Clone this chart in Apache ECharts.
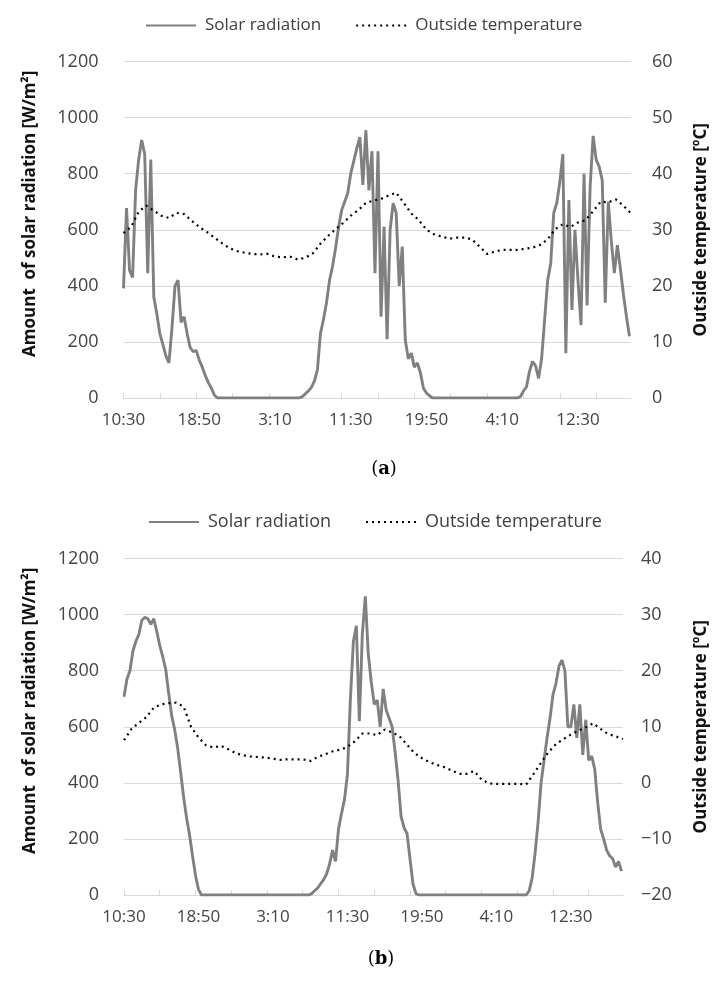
<!DOCTYPE html>
<html>
<head>
<meta charset="utf-8">
<script src="https://cdn.jsdelivr.net/npm/echarts@6/dist/echarts.min.js"></script>
<style>
  html, body { margin: 0; padding: 0; background: #fff; }
  #chartA { position: absolute; left: 0; top: 0; width: 718px; height: 490px; }
  #chartB { position: absolute; left: 0; top: 490px; width: 718px; height: 491px; }
</style>
</head>
<body>
<div id="chartA"></div>
<div id="chartB"></div>
<script>
// 10-minute time slots starting at 10:30; a label every 50 slots, a tick every 24
const slotCount = 336;
const startMinute = 10 * 60 + 30;
const labelEvery = 50;
const tickEvery = 24;
const radEvery = 2;   // radiation read every 2 slots (20 min)
const tempEvery = 5;  // temperature read every 5 slots (50 min)

// (a) solar radiation [W/m2]
const radA = [
  391, 677, 456, 430, 742, 850, 920, 870, 445, 850, 360, 300, 230, 190, 150, 125, 250, 400, 420, 270,
  290, 230, 180, 165, 170, 135, 110, 80, 55, 35, 10,
  0, 0, 0, 0, 0, 0, 0, 0, 0, 0, 0, 0, 0, 0, 0, 0, 0, 0, 0, 0, 0, 0, 0, 0, 0, 0, 0, 0,
  5, 15, 25, 38, 60, 100, 230, 280, 340, 420, 470, 535, 610, 670, 700, 730, 800, 845, 890, 930,
  760, 955, 740, 880, 445, 880, 290, 611, 210, 600, 695, 660, 400, 540, 207, 140, 160, 110, 125, 90,
  35, 18, 8,
  0, 0, 0, 0, 0, 0, 0, 0, 0, 0, 0, 0, 0, 0, 0, 0, 0, 0, 0, 0, 0, 0, 0, 0, 0, 0, 0, 0, 0,
  5, 25, 40, 95, 130, 115, 70, 140, 280, 420, 480, 660, 695, 770, 870, 160, 706, 314, 600, 420,
  260, 800, 330, 750, 935, 850, 825, 777, 340, 700, 560, 445, 545, 460, 370, 290, 220
];
// (a) outside temperature [°C]
const tempA = [
  29.4, 30.5, 33.2, 34.3, 33.4, 32.5, 32.1, 33.0, 32.8, 31.6,
  30.5, 29.6, 28.6, 27.6, 26.7, 26.2, 25.9, 25.7, 25.6, 25.7,
  25.2, 25.1, 25.2, 24.7, 25.0, 25.8, 27.5, 28.9, 30.1, 31.2,
  32.5, 33.5, 34.8, 35.2, 35.5, 36.1, 36.6, 34.8, 32.9, 31.7,
  30.0, 29.2, 28.8, 28.4, 28.6, 28.6, 28.3, 27.0, 25.7, 26.1,
  26.4, 26.4, 26.4, 26.6, 26.8, 27.3, 28.3, 30.1, 31.0, 30.5,
  31.3, 31.7, 33.3, 35.0, 34.9, 35.4, 34.3, 32.9
];

// (b) solar radiation [W/m2]
const radB = [
  707, 770, 800, 870, 905, 930, 980, 990, 985, 965, 985, 940, 890, 850, 805, 720, 640, 590, 525, 440,
  350, 275, 215, 140, 70, 20,
  0, 0, 0, 0, 0, 0, 0, 0, 0, 0, 0, 0, 0, 0, 0, 0, 0, 0, 0, 0, 0, 0, 0, 0, 0, 0, 0, 0, 0, 0, 0, 0, 0, 0, 0, 0, 0,
  5, 15, 25, 40, 55, 75, 110, 160, 120, 235, 290, 340, 430, 700, 905, 960, 620, 930, 1065, 860,
  760, 680, 695, 600, 735, 660, 630, 600, 510, 410, 280, 240, 220, 130, 40, 5,
  0, 0, 0, 0, 0, 0, 0, 0, 0, 0, 0, 0, 0, 0, 0, 0, 0, 0, 0, 0, 0, 0, 0, 0, 0, 0, 0, 0, 0, 0, 0, 0, 0, 0, 0, 0, 0,
  15, 60, 150, 260, 400, 480, 560, 630, 715, 755, 815, 838, 800, 600, 600, 680, 560, 680, 500, 625,
  480, 495, 450, 330, 235, 200, 160, 140, 130, 100, 120, 85
];
// (b) outside temperature [°C]
const tempB = [
  7.6, 9.6, 10.7, 11.7, 13.4, 14.0, 14.2, 14.3, 13.6, 10.0,
  8.1, 6.7, 6.3, 6.6, 6.0, 5.3, 4.9, 4.7, 4.6, 4.5,
  4.3, 4.1, 4.2, 4.2, 4.2, 3.9, 4.6, 5.1, 5.6, 5.9,
  6.4, 7.4, 8.8, 8.8, 8.5, 9.5, 9.0, 8.3, 6.8, 5.3,
  4.4, 3.7, 3.2, 2.8, 2.2, 1.6, 1.6, 2.1, 0.6, -0.1,
  -0.2, -0.2, -0.2, -0.2, -0.3, 1.6, 3.6, 5.5, 6.9, 7.8,
  8.6, 9.3, 9.9, 10.6, 9.6, 8.7, 8.3, 7.8
];

const FONT = "'Open Sans', 'Noto Sans', sans-serif";
const gridColor = '#d9d9d9';
const labelColor = '#444';

const timeSlots = [];
for (let i = 0; i < slotCount; i++) {
  const m = (startMinute + i * 10) % 1440;
  timeSlots.push(Math.floor(m / 60) + ':' + String(m % 60).padStart(2, '0'));
}

function toPairs(arr, every) {
  return arr.map(function (v, i) { return [i * every, v]; });
}

function makeOption(cfg) {
  return {
    animation: false,
    textStyle: { fontFamily: FONT },
    legend: {
      left: cfg.legendLeft,
      top: cfg.legendTop,
      itemWidth: 50,
      itemHeight: 12,
      itemGap: 34,
      itemStyle: { opacity: 0 },
      textStyle: { fontSize: cfg.legendSize, color: '#404040', fontFamily: FONT, padding: [0, 0, 0, 4] },
      data: ['Solar radiation', 'Outside temperature']
    },
    title: {
      text: '({b|' + cfg.tag + '})',
      left: cfg.tagX,
      top: cfg.tagTop,
      textAlign: 'center',
      textStyle: {
        fontFamily: "'DejaVu Serif', 'Liberation Serif', serif",
        fontSize: 18,
        fontWeight: 'normal',
        color: '#000',
        rich: { b: { fontFamily: "'DejaVu Serif', 'Liberation Serif', serif", fontSize: 18, fontWeight: 'bold', color: '#000' } }
      }
    },
    grid: cfg.grid,
    xAxis: {
      type: 'category',
      data: timeSlots,
      boundaryGap: false,
      axisLine: { show: true, lineStyle: { color: gridColor, width: 1 } },
      axisTick: { show: true, inside: true, length: 5, interval: tickEvery - 1, lineStyle: { color: gridColor } },
      splitLine: { show: false },
      axisLabel: { color: labelColor, fontSize: 17, margin: 14, interval: labelEvery - 1 }
    },
    yAxis: [{
      type: 'value',
      min: 0,
      max: 1200,
      interval: 200,
      name: 'Amount  of solar radiation [W/m²]',
      nameLocation: 'middle',
      nameRotate: 90,
      nameGap: 85,
      nameTextStyle: { fontSize: 17, fontWeight: 'bold', color: '#111', padding: [0, 0, 0, 32] },
      axisLine: { show: false },
      axisTick: { show: false },
      splitLine: { lineStyle: { color: gridColor, width: 1 } },
      axisLabel: { color: labelColor, fontSize: 18, margin: 25, formatter: function (v) { return String(v); } }
    }, {
      type: 'value',
      min: cfg.tMin,
      max: cfg.tMax,
      interval: 10,
      name: 'Outside temperature [ºC]',
      nameLocation: 'middle',
      nameRotate: 90,
      nameGap: cfg.rightNameGap,
      nameTextStyle: { fontSize: 17, fontWeight: 'bold', color: '#111' },
      axisLine: { show: false },
      axisTick: { show: false },
      splitLine: { show: false },
      axisLabel: {
        color: labelColor,
        fontSize: 18,
        margin: cfg.rightMargin,
        formatter: function (v) { return String(v).replace('-', '\u2212'); }
      }
    }],
    series: [{
      name: 'Solar radiation',
      type: 'line',
      yAxisIndex: 0,
      symbol: 'none',
      data: toPairs(cfg.rad, radEvery),
      lineStyle: { color: '#808080', width: 2.9 },
      itemStyle: { color: '#808080' }
    }, {
      name: 'Outside temperature',
      type: 'line',
      yAxisIndex: 1,
      symbol: 'none',
      data: toPairs(cfg.temp, tempEvery),
      lineStyle: { color: '#000', width: 2.2, type: [2, 4] },
      itemStyle: { color: '#000' }
    }]
  };
}

var chartA = echarts.init(document.getElementById('chartA'));
chartA.setOption(makeOption({
  rad: radA, temp: tempA, tag: 'a',
  grid: { left: 123.5, top: 61.5, width: 511.5, height: 336.5 },
  legendLeft: 140, legendTop: 12, legendSize: 17,
  tagX: 379, tagTop: 455,
  tMin: 0, tMax: 60, rightNameGap: 62, rightMargin: 21
}));

var chartB = echarts.init(document.getElementById('chartB'));
chartB.setOption(makeOption({
  rad: radB, temp: tempB, tag: 'b',
  grid: { left: 124, top: 68.5, width: 503, height: 336.5 },
  legendLeft: 143, legendTop: 18, legendSize: 18,
  tagX: 376, tagTop: 455,
  tMin: -20, tMax: 40, rightNameGap: 70, rightMargin: 18
}));

window.addEventListener('resize', function () { chartA.resize(); chartB.resize(); });
</script>
</body>
</html>
